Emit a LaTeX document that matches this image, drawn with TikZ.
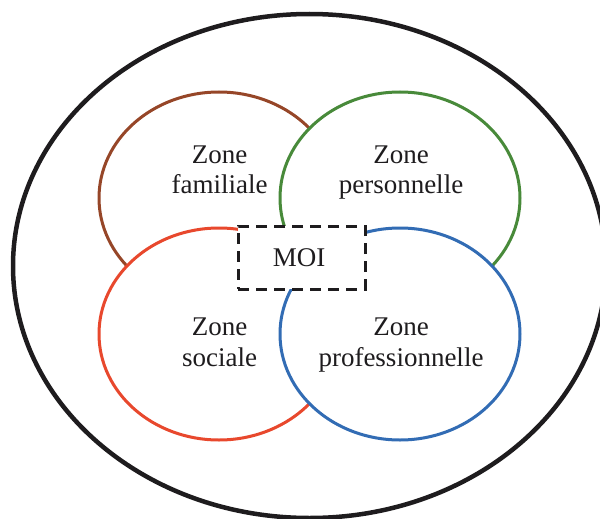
\documentclass[tikz,border=0pt]{standalone}
\usepackage{fontspec}
\setmainfont{Liberation Serif}
\usetikzlibrary{shapes.geometric}
\definecolor{cbrown}{RGB}{150,70,40}
\definecolor{cgreen}{RGB}{72,138,58}
\definecolor{cred}{RGB}{232,72,45}
\definecolor{cblue}{RGB}{50,108,180}
\definecolor{cink}{RGB}{30,28,30}
\begin{document}
\begin{tikzpicture}[x=1pt,y=-1pt,
  zone/.style={ellipse, draw, fill=white, line width=3pt, minimum width=240pt, minimum height=212pt, inner sep=0pt},
  lbl/.style={anchor=base, inner sep=0pt, font=\fontsize{27}{30}\selectfont, text=cink},
  moibox/.style={draw=cink, fill=white, line width=3pt, dash pattern=on 11pt off 7pt, minimum width=127pt, minimum height=63pt, inner sep=0pt}]
\useasboundingbox (0,0) rectangle (600,519);
\node[ellipse, draw=cink, line width=4.5pt, minimum width=593pt, minimum height=504pt, inner sep=0pt] (outer) at (309.5,266) {};
\node[zone, draw=cbrown] (fam) at (219,198) {};
\node[zone, draw=cgreen] (per) at (400,198) {};
\node[zone, draw=cred] (soc) at (219,334) {};
\node[zone, draw=cblue] (pro) at (400,334) {};
\node[moibox] (moi) at (301.5,257.5) {};
\node[lbl] (famA) at (219.5,163.5) {Zone};
\node[lbl] (famB) at (219.5,193.5) {familiale};
\node[lbl] (perA) at (401,163.5) {Zone};
\node[lbl] (perB) at (401,193.5) {personnelle};
\node[lbl] (socA) at (219.5,335.5) {Zone};
\node[lbl] (socB) at (219.5,366) {sociale};
\node[lbl] (proA) at (401,335.5) {Zone};
\node[lbl] (proB) at (401,366) {professionnelle};
\node[lbl] (moiT) at (299,266.5) {MOI};
\end{tikzpicture}
\end{document}
